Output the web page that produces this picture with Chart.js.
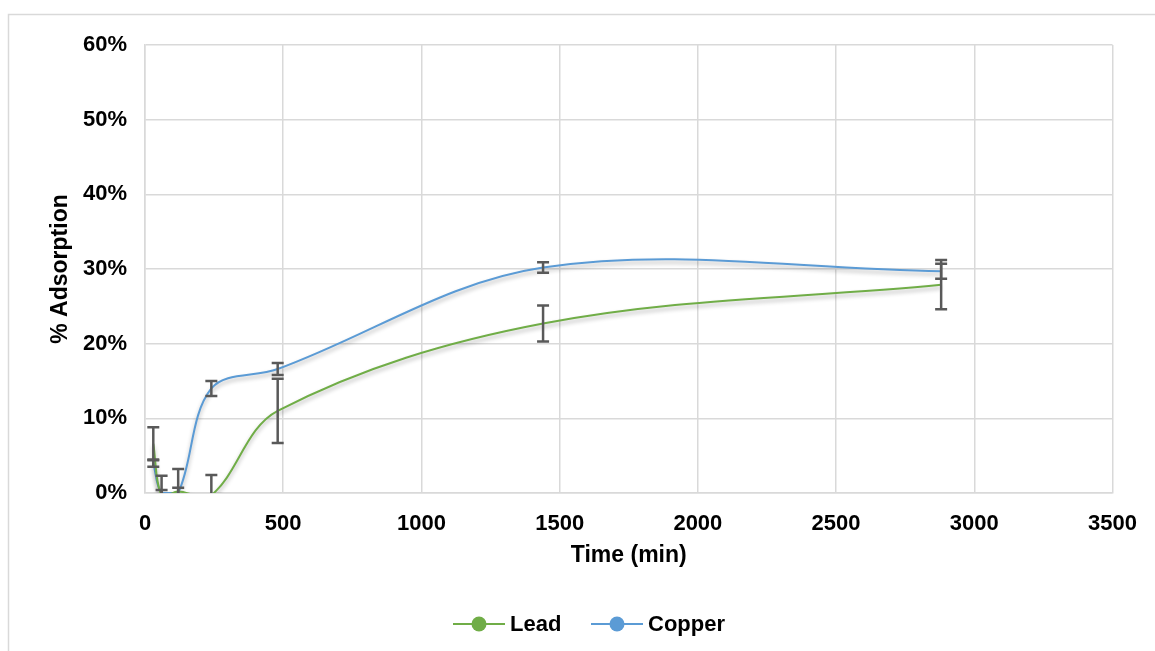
<!DOCTYPE html>
<html>
<head>
<meta charset="utf-8">
<script src="https://cdn.jsdelivr.net/npm/chart.js@4/dist/chart.umd.min.js"></script>
<style>
  html, body { margin: 0; padding: 0; background: #fff; }
  #wrap { position: relative; width: 1155px; height: 651px; }
</style>
</head>
<body>
<div id="wrap"><canvas id="myChart" width="1155" height="651"></canvas></div>
<script>
// time points (min)
var times = [30, 60, 120, 240, 480, 1440, 2880];
// % adsorption
var lead = [6.6, -0.3, 0.2, -0.3, 11.0, 22.7, 27.9];
var copper = [4.0, 0.0, 0.0, 14.0, 16.6, 30.2, 29.7];
// error bars (+/-)
var leadErr = [2.2, 2.6, 3.0, 2.7, 4.3, 2.4, 3.3];
var copperErr = [0.5, 0.4, 0.7, 1.0, 0.8, 0.7, 1.0];

var xTicks = [0, 500, 1000, 1500, 2000, 2500, 3000, 3500];
var yTicks = [0, 10, 20, 30, 40, 50, 60];

var names = ['Lead', 'Copper'];
var colors = ['#70AD47', '#5B9BD5'];

var font = 'Liberation Sans, Arial, sans-serif';

function toPoints(xs, ys) {
    var pts = [];
    for (let i = 0; i < xs.length; i++) {
        pts.push({ x: xs[i], y: ys[i] });
    }
    return pts;
}

// outer frame
var framePlugin = {
    id: 'frame',
    beforeDraw: function (chart) {
        var ctx = chart.ctx;
        ctx.save();
        ctx.strokeStyle = '#d9d9d9';
        ctx.lineWidth = 1.5;
        ctx.strokeRect(8.5, 14.5, 1300, 800);
        ctx.restore();
    }
};

// soft shadow under the lines, like the Excel original
var shadowPlugin = {
    id: 'shadow',
    beforeDatasetDraw: function (chart) {
        var ctx = chart.ctx;
        ctx.save();
        ctx.shadowColor = 'rgba(0,0,0,0.3)';
        ctx.shadowBlur = 4;
        ctx.shadowOffsetY = 3;
    },
    afterDatasetDraw: function (chart) {
        chart.ctx.restore();
    }
};

var errorBarPlugin = {
    id: 'errorBars',
    afterDatasetsDraw: function (chart) {
        var ctx = chart.ctx;
        var xs = chart.scales.x, ys = chart.scales.y;
        var a = chart.chartArea;
        var errs = [leadErr, copperErr];
        var vals = [lead, copper];
        ctx.save();
        ctx.beginPath();
        ctx.rect(a.left, a.top, a.right - a.left, a.bottom - a.top);
        ctx.clip();
        ctx.strokeStyle = '#595959';
        ctx.lineWidth = 2.5;
        for (let s = 0; s < 2; s++) {
            for (let i = 0; i < times.length; i++) {
                var px = xs.getPixelForValue(times[i]);
                var top = ys.getPixelForValue(vals[s][i] + errs[s][i]);
                var bot = ys.getPixelForValue(vals[s][i] - errs[s][i]);
                ctx.beginPath();
                ctx.moveTo(px, top); ctx.lineTo(px, bot);
                ctx.moveTo(px - 6, top); ctx.lineTo(px + 6, top);
                ctx.moveTo(px - 6, bot); ctx.lineTo(px + 6, bot);
                ctx.stroke();
            }
        }
        ctx.restore();
    }
};

// legend: line with dot, bottom centre
var legendPlugin = {
    id: 'lineLegend',
    afterDraw: function (chart) {
        var ctx = chart.ctx;
        var y = 624;
        var starts = [453, 591];
        ctx.save();
        ctx.font = 'bold 22px ' + font;
        ctx.textBaseline = 'middle';
        for (let i = 0; i < names.length; i++) {
            var x0 = starts[i];
            ctx.strokeStyle = colors[i];
            ctx.lineWidth = 2;
            ctx.beginPath();
            ctx.moveTo(x0, y); ctx.lineTo(x0 + 52, y);
            ctx.stroke();
            ctx.fillStyle = colors[i];
            ctx.beginPath();
            ctx.arc(x0 + 26, y, 7.5, 0, Math.PI * 2);
            ctx.fill();
            ctx.fillStyle = '#000';
            ctx.fillText(names[i], x0 + 57, y + 1);
        }
        ctx.restore();
    }
};

var ctx = document.getElementById('myChart').getContext('2d');
var chart = new Chart(ctx, {
    type: 'line',
    data: {
        datasets: [{
            label: names[0],
            data: toPoints(times, lead),
            borderColor: colors[0],
            backgroundColor: colors[0],
            borderWidth: 2,
            pointRadius: 0,
            tension: 0.35
        }, {
            label: names[1],
            data: toPoints(times, copper),
            borderColor: colors[1],
            backgroundColor: colors[1],
            borderWidth: 2,
            pointRadius: 0,
            tension: 0.35
        }]
    },
    options: {
        responsive: false,
        animation: false,
        layout: { padding: { top: 45, left: 0, right: 41, bottom: 0 } },
        plugins: {
            legend: { display: false },
            tooltip: { enabled: false }
        },
        scales: {
            x: {
                type: 'linear',
                min: 0,
                max: 3500,
                afterBuildTicks: function (scale) {
                    scale.ticks = xTicks.map(function (v) { return { value: v }; });
                },
                afterFit: function (scale) { scale.height = 158; },
                grid: { color: '#d9d9d9', lineWidth: 1.5, drawTicks: false },
                border: { color: '#d9d9d9', width: 1.5 },
                ticks: {
                    padding: 18,
                    color: '#000',
                    maxRotation: 0,
                    font: { family: font, size: 22, weight: 'bold' },
                    callback: function (v) { return String(v); }
                },
                title: {
                    display: true,
                    text: 'Time (min)',
                    color: '#000',
                    font: { family: font, size: 23, weight: 'bold' },
                    padding: { top: 82, bottom: 82 }
                }
            },
            y: {
                min: 0,
                max: 60,
                afterBuildTicks: function (scale) {
                    scale.ticks = yTicks.map(function (v) { return { value: v }; });
                },
                afterFit: function (scale) { scale.width = 145; },
                grid: { color: '#d9d9d9', lineWidth: 1.5, drawTicks: false },
                border: { color: '#d9d9d9', width: 1.5 },
                ticks: {
                    padding: 18,
                    color: '#000',
                    font: { family: font, size: 22, weight: 'bold' },
                    callback: function (v) { return v + '%'; }
                },
                title: {
                    display: true,
                    text: '% Adsorption',
                    color: '#000',
                    font: { family: font, size: 23, weight: 'bold' },
                    padding: { top: 47, bottom: 47 }
                }
            }
        }
    },
    plugins: [framePlugin, shadowPlugin, errorBarPlugin, legendPlugin]
});
</script>
</body>
</html>
